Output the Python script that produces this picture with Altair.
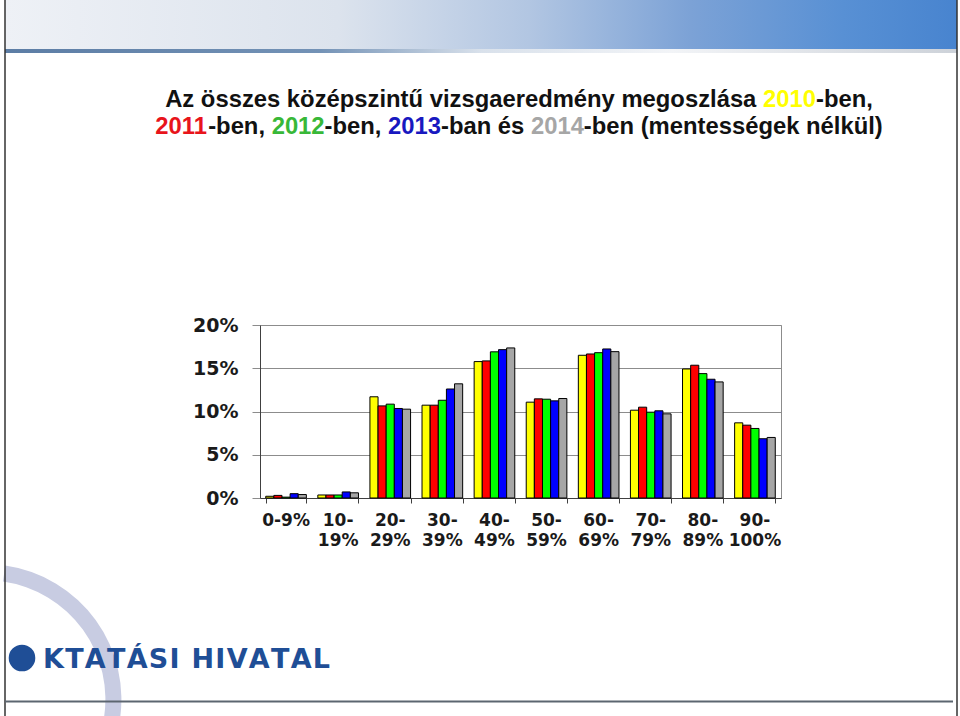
import altair as alt
import pandas as pd

# ---------------- data ----------------
categories = ["0-9%", "10-19%", "20-29%", "30-39%", "40-49%",
              "50-59%", "60-69%", "70-79%", "80-89%", "90-100%"]
label_line1 = ["0-9%", "10-", "20-", "30-", "40-", "50-", "60-", "70-", "80-", "90-"]
label_line2 = ["", "19%", "29%", "39%", "49%", "59%", "69%", "79%", "89%", "100%"]
years = ["2010", "2011", "2012", "2013", "2014"]
v2010 = [0.2, 0.35, 11.7, 10.73, 15.77, 11.08, 16.5, 10.15, 14.92, 8.69]
v2011 = [0.3, 0.35, 10.65, 10.73, 15.85, 11.46, 16.65, 10.5, 15.35, 8.42]
v2012 = [0.1, 0.35, 10.85, 11.3, 16.9, 11.42, 16.8, 9.92, 14.38, 8.04]
v2013 = [0.5, 0.7, 10.35, 12.6, 17.15, 11.23, 17.23, 10.08, 13.73, 6.85]
v2014 = [0.4, 0.6, 10.27, 13.2, 17.35, 11.5, 16.92, 9.73, 13.42, 7.0]
y_ticks = [0, 5, 10, 15, 20]
bar_colors = ["#FFFF00", "#FF0000", "#00FF00", "#0000FF", "#A6A6A6"]

rows = []
for yr, vals in zip(years, [v2010, v2011, v2012, v2013, v2014]):
    for c, v in zip(categories, vals):
        rows.append({"cat": c, "year": yr, "value": v})
df = pd.DataFrame(rows)
labels_df = pd.DataFrame({"cat": categories, "l1": label_line1, "l2": label_line2})

# ---------------- layout ----------------
OX, OY = 260, 325          # plot origin in page pixels
W, H = 521, 173            # plot area

def one():
    return alt.Chart(pd.DataFrame({"d": [0]}))

def rect(x0, y0, x1, y1, **kw):
    return one().mark_rect(**kw).encode(
        x=alt.value(x0 - OX), x2=alt.value(x1 - OX),
        y=alt.value(y0 - OY), y2=alt.value(y1 - OY))

def rule(x0, y0, x1, y1, **kw):
    return one().mark_rule(**kw).encode(
        x=alt.value(x0 - OX), x2=alt.value(x1 - OX),
        y=alt.value(y0 - OY), y2=alt.value(y1 - OY))

def text(s, x, y, **kw):
    return one().mark_text(text=s, align="left", baseline="alphabetic", **kw).encode(
        x=alt.value(x - OX), y=alt.value(y - OY))

layers = []

# top banner
banner = alt.Gradient(
    gradient="linear", x1=0, x2=1, y1=0, y2=0,
    stops=[alt.GradientStop(color="#EEF1F6", offset=0),
           alt.GradientStop(color="#DCE3ED", offset=0.35),
           alt.GradientStop(color="#B2C6E2", offset=0.55),
           alt.GradientStop(color="#7CA2D6", offset=0.72),
           alt.GradientStop(color="#5890D4", offset=0.88),
           alt.GradientStop(color="#4884CF", offset=1)])
layers.append(rect(5, 0, 957, 49, fill=banner))
strip = alt.Gradient(
    gradient="linear", x1=0, x2=1, y1=0, y2=0,
    stops=[alt.GradientStop(color="#5C7DA5", offset=0),
           alt.GradientStop(color="#7392B6", offset=0.33),
           alt.GradientStop(color="#D9E1EB", offset=0.5),
           alt.GradientStop(color="#F2F4F7", offset=0.7),
           alt.GradientStop(color="#CDD2D9", offset=1)])
layers.append(rect(5, 49, 957, 53, fill=strip))

# decorative arc
layers.append(one().mark_arc(theta=0.14, theta2=1.75, radius=135, radius2=119,
                             color="#C8CCE2").encode(
    x=alt.value(-13.6 - OX), y=alt.value(699.3 - OY)))

# frame lines
layers.append(rule(5, 0, 5, 716, color="#333333", strokeWidth=1.5))
layers.append(rule(957, 0, 957, 716, color="#333333", strokeWidth=1.5))
layers.append(rule(5, 701.5, 953, 701.5, color="#5C6670", strokeWidth=2))

# logo
logo_blue = "#1F4E96"
layers.append(one().mark_circle(size=3.1416 * 15 * 15, color=logo_blue, opacity=1).encode(
    x=alt.value(22 - OX), y=alt.value(658 - OY)))
dv_bold = {"K": 0.775, "T": 0.682, "A": 0.774, "Á": 0.774, "S": 0.720, "I": 0.372,
           " ": 0.348, "H": 0.837, "V": 0.774, "L": 0.637}
logo_text = "KTATÁSI HIVATAL"
logo_size = 27
total = sum(dv_bold[c] for c in logo_text) * logo_size
spacing = (287 - total) / (len(logo_text) - 1)
lx = 43
for ch in logo_text:
    if ch != " ":
        layers.append(text(ch, lx, 668, font="DejaVu Sans", fontWeight="bold",
                           fontSize=logo_size, color=logo_blue))
    lx += dv_bold[ch] * logo_size + spacing

# title (multi-coloured, Arial-metric widths)
arial_bold = {"A": 722, "z": 500, "ö": 611, "s": 556, "e": 556, "k": 556, "é": 556,
              "p": 611, "i": 278, "n": 611, "t": 333, "ű": 611, "v": 556, "g": 611,
              "a": 556, "r": 389, "d": 611, "m": 889, "y": 556, "l": 278, "á": 556,
              "b": 611, ",": 278, "-": 333, "(": 333, ")": 333, " ": 278, "ü": 611,
              "o": 611, "ó": 611}
for dgt in "0123456789":
    arial_bold[dgt] = 556
TFS = 23.8
BLACK = "#111111"
title_lines = [
    ([("Az összes középszintű vizsgaeredmény megoszlása ", BLACK),
      ("2010", "#FFFF00"), ("-ben,", BLACK)], 107),
    ([("2011", "#E8141B"), ("-ben, ", BLACK), ("2012", "#38B838"), ("-ben, ", BLACK),
      ("2013", "#1818C0"), ("-ban és ", BLACK), ("2014", "#A6A6A6"),
      ("-ben (mentességek nélkül)", BLACK)], 134),
]
CX = 519
for segs, base in title_lines:
    widths = [sum(arial_bold[c] for c in s) / 1000 * TFS for s, _ in segs]
    x = CX - sum(widths) / 2
    for (s, col), w in zip(segs, widths):
        layers.append(text(s, x, base, font="Liberation Sans", fontWeight="bold",
                           fontSize=TFS, color=col))
        x += w

# ---------------- bars ----------------
x_enc = alt.X("cat:N", sort=categories,
              scale=alt.Scale(paddingInner=0.22, paddingOuter=0.11),
              axis=alt.Axis(title=None, labels=False, tickBand="extent", grid=False,
                            tickSize=5, domainColor="#404040", tickColor="#404040"))

bars = alt.Chart(df).mark_bar(stroke="black", strokeWidth=1).encode(
    x=x_enc,
    xOffset=alt.XOffset("year:N", sort=years),
    y=alt.Y("value:Q", scale=alt.Scale(domain=[0, 20], nice=False),
            axis=alt.Axis(title=None, values=y_ticks, labelExpr="datum.value + '%'",
                          grid=True, gridColor="#8C8C8C", tickColor="#8C8C8C",
                          tickSize=8, labelPadding=14, labelFontSize=19,
                          labelFont="DejaVu Sans", labelFontWeight="bold",
                          labelColor="#1A1A1A", domainColor="#404040")),
    color=alt.Color("year:N", scale=alt.Scale(domain=years, range=bar_colors),
                    legend=None),
)
layers.append(bars)

lab1 = alt.Chart(labels_df).mark_text(font="DejaVu Sans", fontSize=17, fontWeight="bold",
                                      color="#1A1A1A", baseline="alphabetic").encode(
    x=alt.X("cat:N", sort=categories), text="l1:N", y=alt.value(H + 28))
lab2 = alt.Chart(labels_df).mark_text(font="DejaVu Sans", fontSize=17, fontWeight="bold",
                                      color="#1A1A1A", baseline="alphabetic").encode(
    x=alt.X("cat:N", sort=categories), text="l2:N", y=alt.value(H + 48))
layers += [lab1, lab2]

chart = alt.layer(*layers).properties(
    width=W, height=H,
    padding={"left": OX, "top": OY, "right": 960 - OX - W, "bottom": 716 - OY - H},
    autosize=alt.AutoSizeParams(type="none"),
    background="white",
).configure_view(stroke="#8C8C8C", strokeWidth=1)

chart.save("out.html", embed_options={"renderer": "svg", "actions": False})
